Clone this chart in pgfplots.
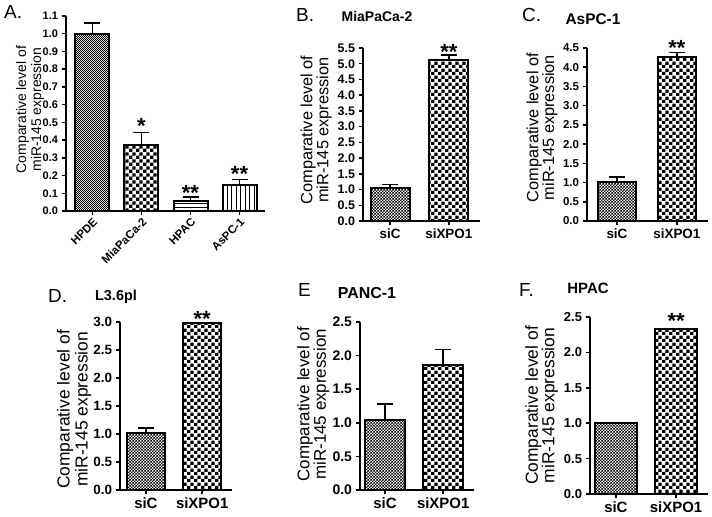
\documentclass[border=0pt]{standalone}
\usepackage{fontspec}
\setmainfont{Liberation Sans}
\usepackage{pgfplots}
\pgfplotsset{compat=1.18}
\usetikzlibrary{patterns}

\pgfdeclarepatternformonly{tinycheck}{\pgfqpoint{0pt}{0pt}}{\pgfqpoint{2.4bp}{2.4bp}}{\pgfqpoint{2.4bp}{2.4bp}}{%
 \pgfpathrectangle{\pgfqpoint{0pt}{0pt}}{\pgfqpoint{1.2bp}{1.2bp}}%
 \pgfpathrectangle{\pgfqpoint{1.2bp}{1.2bp}}{\pgfqpoint{1.2bp}{1.2bp}}%
 \pgfusepath{fill}}
\pgfdeclarepatternformonly{smallcheck}{\pgfqpoint{0pt}{0pt}}{\pgfqpoint{3.4bp}{3.4bp}}{\pgfqpoint{3.4bp}{3.4bp}}{%
 \pgfpathrectangle{\pgfqpoint{0pt}{0pt}}{\pgfqpoint{1.7bp}{1.7bp}}%
 \pgfpathrectangle{\pgfqpoint{1.7bp}{1.7bp}}{\pgfqpoint{1.7bp}{1.7bp}}%
 \pgfusepath{fill}}
\pgfdeclarepatternformonly{bigcheck}{\pgfqpoint{0pt}{0pt}}{\pgfqpoint{7.2bp}{7.2bp}}{\pgfqpoint{7.2bp}{7.2bp}}{%
 \pgfpathrectangle{\pgfqpoint{0pt}{0pt}}{\pgfqpoint{3.6bp}{3.6bp}}%
 \pgfpathrectangle{\pgfqpoint{3.6bp}{3.6bp}}{\pgfqpoint{3.6bp}{3.6bp}}%
 \pgfusepath{fill}}
\pgfdeclarepatternformonly{hlinesp}{\pgfqpoint{-0.5bp}{0pt}}{\pgfqpoint{4bp}{3.5bp}}{\pgfqpoint{3.5bp}{3.5bp}}{%
 \pgfsetlinewidth{1.1bp}%
 \pgfpathmoveto{\pgfqpoint{-0.5bp}{1.75bp}}\pgfpathlineto{\pgfqpoint{4bp}{1.75bp}}%
 \pgfusepath{stroke}}
\pgfdeclarepatternformonly{vlinesp}{\pgfqpoint{0pt}{-0.5bp}}{\pgfqpoint{4.5bp}{5bp}}{\pgfqpoint{4.5bp}{4.5bp}}{%
 \pgfsetlinewidth{1.1bp}%
 \pgfpathmoveto{\pgfqpoint{2.25bp}{-0.5bp}}\pgfpathlineto{\pgfqpoint{2.25bp}{5bp}}%
 \pgfusepath{stroke}}

\pgfplotsset{
  panel/.style={
    scale only axis, anchor=south west,
    axis x line*=bottom, axis y line*=left,
    axis line style={line width=2bp},
    x axis line style={-}, y axis line style={-},
    tick align=outside, major tick length=4.5bp,
    tick style={black, line width=1.5bp},
    ymin=0, clip=false,
    /pgf/number format/assume math mode=true,
    yticklabel style={/pgf/number format/fixed, /pgf/number format/fixed zerofill, /pgf/number format/precision=1},
    xtick={0,1}, xticklabels={siC,siXPO1},
    ylabel={Comparative level of\\miR-145 expression},
  },
  mybar/.style={ybar, bar shift=0pt, draw=black, line width=2bp, pattern color=black,
    error bars/y dir=plus, error bars/y explicit,
    error bars/error bar style={line width=1.6bp, black},
    error bars/error mark options={rotate=90, black, line width=1.6bp, mark size=8bp}},
}
\tikzset{astk/.style={font=\bfseries\fontsize{22}{22}\selectfont, anchor=base, yshift=-12bp, inner sep=0pt}}

\begin{document}
\begin{tikzpicture}[x=1bp,y=1bp]
\useasboundingbox (0,0) rectangle (712,517);

% ---------------- A ----------------
\begin{axis}[panel, at={(66bp,306bp)}, width=199bp, height=195bp,
  xmin=-0.54, xmax=3.52, ymax=1.1,
  ytick={0,0.1,0.2,0.3,0.4,0.5,0.6,0.7,0.8,0.9,1.0,1.1},
  xtick={0,1,2,3}, xticklabels={HPDE,MiaPaCa-2,HPAC,AsPC-1},
  xticklabel style={rotate=45, anchor=north east, font=\bfseries\fontsize{11.5}{11.5}\selectfont, inner sep=1bp},
  yticklabel style={font=\bfseries\fontsize{11}{11}\selectfont},
  ylabel style={at={(axis description cs:-0.181,0.52)}, anchor=center, align=center, font=\fontsize{14}{15}\selectfont},
  bar width=34bp]
\addplot[mybar, pattern=tinycheck] coordinates {(0,1.0) +- (0,0.059)};
\addplot[mybar, pattern=bigcheck] coordinates {(1,0.374) +- (0,0.069)};
\addplot[mybar, pattern=hlinesp] coordinates {(2,0.057) +- (0,0.021)};
\addplot[mybar, pattern=vlinesp] coordinates {(3,0.145) +- (0,0.033)};
\node[astk] at (axis cs:1,0.505) {*};
\node[astk] at (axis cs:2,0.129) {**};
\node[astk] at (axis cs:3,0.233) {**};
\end{axis}

% ---------------- B ----------------
\begin{axis}[panel, at={(363bp,296bp)}, width=117bp, height=173bp,
  xmin=-0.46, xmax=1.53, ymax=5.5,
  ytick={0,0.5,1,1.5,2,2.5,3,3.5,4,4.5,5,5.5},
  xticklabel style={font=\bfseries\fontsize{13.5}{14}\selectfont},
  yticklabel style={font=\bfseries\fontsize{12.5}{12.5}\selectfont},
  ylabel style={at={(axis description cs:-0.40,0.526)}, anchor=center, align=center, font=\fontsize{16.4}{16}\selectfont},
  bar width=39bp]
\addplot[mybar, pattern=smallcheck] coordinates {(0,1.04) +- (0,0.12)};
\addplot[mybar, pattern=bigcheck] coordinates {(1,5.12) +- (0,0.16)};
\node[astk] at (axis cs:1,5.53) {**};
\end{axis}

% ---------------- C ----------------
\begin{axis}[panel, at={(587bp,296bp)}, width=121bp, height=173bp,
  xmin=-0.5, xmax=1.52, ymax=4.5,
  ytick={0,0.5,1,1.5,2,2.5,3,3.5,4,4.5},
  xticklabel style={font=\bfseries\fontsize{13.5}{14}\selectfont},
  yticklabel style={font=\bfseries\fontsize{11.5}{11.5}\selectfont},
  ylabel style={at={(axis description cs:-0.372,0.54)}, anchor=center, align=center, font=\fontsize{16.4}{16}\selectfont},
  bar width=38bp]
\addplot[mybar, pattern=smallcheck] coordinates {(0,1.02) +- (0,0.12)};
\addplot[mybar, pattern=bigcheck] coordinates {(1,4.27) +- (0,0.11)};
\node[astk] at (axis cs:1,4.61) {**};
\end{axis}

% ---------------- D ----------------
\begin{axis}[panel, at={(120bp,27bp)}, width=112bp, height=168bp,
  xmin=-0.46, xmax=1.53, ymax=3,
  ytick={0,0.5,1,1.5,2,2.5,3},
  xticklabel style={font=\bfseries\fontsize{15}{15}\selectfont},
  yticklabel style={font=\bfseries\fontsize{13.5}{13.5}\selectfont},
  ylabel style={at={(axis description cs:-0.41,0.48)}, anchor=center, align=center, font=\fontsize{17.5}{18}\selectfont},
  bar width=38bp]
\addplot[mybar, pattern=smallcheck] coordinates {(0,1.02) +- (0,0.09)};
\addplot[mybar, pattern=bigcheck] coordinates {(1,2.98) +- (0,0.0)};
\node[astk] at (axis cs:1,3.14) {**};
\end{axis}

% ---------------- E ----------------
\begin{axis}[panel, at={(360bp,27bp)}, width=114bp, height=168bp,
  xmin=-0.43, xmax=1.53, ymax=2.5,
  ytick={0,0.5,1,1.5,2,2.5},
  xticklabel style={font=\bfseries\fontsize{15}{15}\selectfont},
  yticklabel style={font=\bfseries\fontsize{14}{14}\selectfont},
  ylabel style={at={(axis description cs:-0.41,0.51)}, anchor=center, align=center, font=\fontsize{17}{16.5}\selectfont},
  bar width=40bp]
\addplot[mybar, pattern=smallcheck] coordinates {(0,1.035) +- (0,0.245)};
\addplot[mybar, pattern=bigcheck] coordinates {(1,1.86) +- (0,0.23)};
\end{axis}

% ---------------- F ----------------
\begin{axis}[panel, at={(590bp,23bp)}, width=118bp, height=177bp,
  xmin=-0.43, xmax=1.53, ymax=2.5,
  ytick={0,0.5,1,1.5,2,2.5},
  xticklabel style={font=\bfseries\fontsize{15}{15}\selectfont},
  yticklabel style={font=\bfseries\fontsize{13}{13}\selectfont},
  ylabel style={at={(axis description cs:-0.41,0.50)}, anchor=center, align=center, font=\fontsize{17.5}{16.5}\selectfont},
  bar width=42bp]
\addplot[mybar, pattern=smallcheck] coordinates {(0,1.005) +- (0,0.0)};
\addplot[mybar, pattern=bigcheck] coordinates {(1,2.33) +- (0,0.01)};
\node[astk] at (axis cs:1,2.5) {**};
\end{axis}

% panel letters and titles
\node[anchor=west, font=\fontsize{19}{19}\selectfont, inner sep=0pt] at (4,505) {A.};
\node[anchor=west, font=\fontsize{19}{19}\selectfont, inner sep=0pt] at (296,502) {B.};
\node[anchor=west, font=\fontsize{19}{19}\selectfont, inner sep=0pt] at (522,502) {C.};
\node[anchor=west, font=\fontsize{19}{19}\selectfont, inner sep=0pt] at (48,221) {D.};
\node[anchor=west, font=\fontsize{19}{19}\selectfont, inner sep=0pt] at (298,227) {E};
\node[anchor=west, font=\fontsize{19}{19}\selectfont, inner sep=0pt] at (519,227) {F.};

\node[font=\bfseries\fontsize{14}{14}\selectfont, inner sep=0pt] at (377,500) {MiaPaCa-2};
\node[font=\bfseries\fontsize{15.5}{15.5}\selectfont, inner sep=0pt] at (593,498) {AsPC-1};
\node[font=\bfseries\fontsize{14.5}{14.5}\selectfont, inner sep=0pt] at (116,220) {L3.6pl};
\node[font=\bfseries\fontsize{16}{16}\selectfont, inner sep=0pt] at (367,224) {PANC-1};
\node[font=\bfseries\fontsize{15}{15}\selectfont, inner sep=0pt] at (588,229) {HPAC};
\end{tikzpicture}
\end{document}
